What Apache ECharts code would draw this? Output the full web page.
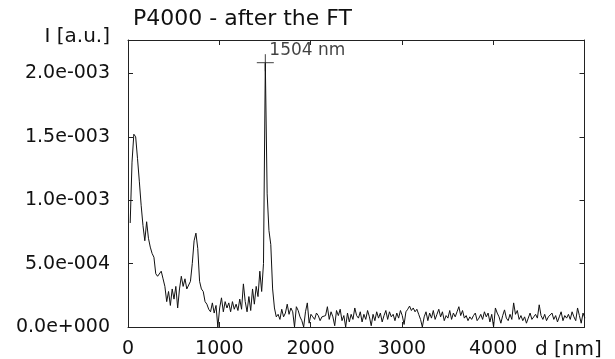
<!DOCTYPE html>
<html>
<head>
<meta charset="utf-8">
<script src="https://cdn.jsdelivr.net/npm/echarts@6/dist/echarts.min.js"></script>
<style>
html,body{margin:0;padding:0;background:#fff;}
#chart{width:615px;height:359px;}
</style>
</head>
<body>
<div id="chart"></div>
<script>
// Sampling grid of the trace (nm): first point and spacing
const dStart = 24;
const dStep = 20;
// Intensity, in units of 1e-4 a.u.
const intensityE4 = [
  // 24 .. 1624
  8.2, 13.0, 15.2, 15.0, 13.3, 11.5, 9.6, 8.0, 6.8, 8.3,
  7.0, 6.3, 5.8, 5.5, 4.2, 4.0, 4.1, 4.4, 3.8, 3.2,
  2.0, 2.8, 1.7, 3.0, 2.2, 3.2, 1.5, 3.0, 4.0, 3.2,
  3.8, 3.0, 2.9, 3.6, 5.0, 6.8, 7.4, 6.2, 3.6, 3.0,
  2.8, 2.0, 1.8, 1.4, 1.2, 1.9, 1.1, 1.7, 0.0, 1.5,
  2.3, 1.2, 2.0, 1.5, 1.9, 1.2, 2.0, 1.4, 1.8, 1.3,
  2.2, 1.4, 3.4, 2.0, 1.2, 2.4, 1.3, 3.0, 1.8, 3.2,
  2.4, 4.4, 2.8, 5.0, 20.8, 10.5, 7.6, 6.5, 3.0, 1.5,
  0.8,
  // 1644 .. 5004
  1.0, 0.6, 1.4, 0.8, 1.1, 1.8, 1.0, 1.5, 1.2, 0.0,
  1.6, 1.3, 0.8, 0.5, 0.0, 1.2, 1.9, 0.3, 1.0, 0.8,
  0.6, 1.1, 0.9, 0.5, 0.8, 0.7, 0.9, 1.6, 0.6, 1.2,
  0.8, 0.1, 1.3, 0.9, 1.4, 0.5, 0.9, 0.0, 1.1, 0.4,
  1.0, 0.6, 1.5, 0.9, 0.7, 1.2, 0.4, 1.0, 0.6, 1.3,
  0.8, 0.1, 1.0, 0.5, 1.2, 0.7, 1.1, 0.4, 0.9, 1.3,
  0.6, 1.2, 0.8, 1.0, 0.5, 1.1, 0.7, 1.3, 0.9, 0.2,
  1.2, 1.4, 1.65, 1.3, 1.5, 1.2, 1.4, 1.0, 0.6, 0.0,
  0.8, 1.2, 0.5, 1.1, 0.7, 1.3, 0.6, 1.0, 1.4, 0.8,
  1.2, 0.5, 0.9, 0.7, 1.3, 0.6, 1.1, 0.8, 1.2, 1.6,
  0.9, 1.3, 0.7, 0.9, 0.5, 0.8, 0.6, 0.9, 1.1, 0.5,
  0.7, 1.0, 0.6, 1.2, 0.8, 1.1, 0.4, 1.0, 0.0, 1.5,
  1.1, 0.8, 0.3, 0.9, 1.35, 0.7, 0.5, 1.0, 0.6, 1.9,
  1.0, 1.3, 0.6, 0.9, 0.5, 0.8, 0.3, 0.7, 1.1, 0.6,
  0.8, 1.0, 0.7, 1.75, 0.9, 0.6, 1.0, 0.5, 0.8, 0.7,
  1.1, 0.6, 0.9, 0.4, 0.8, 1.2, 0.5, 0.9, 0.7, 1.0,
  0.6, 1.2, 0.8, 0.5, 1.5, 0.9, 0.3, 1.1, 0.7
];
// Marked peak
const peakD = [1504];
const peakI = [2.084e-3];
const peakLabel = ['1504 nm'];
// Axis ticks
const xTickStep = 1000;
const yTickStep = 5e-4;

const titleText = 'P4000 - after the FT';
const yName = 'I [a.u.]';
const xName = 'd [nm]';

const traceData = intensityE4.map((v, i) => [dStart + i * dStep, v * 1e-4]);
const peakData = peakD.map((d, i) => [d, peakI[i]]);

function sci(v) {
  const s = Number(v).toExponential(1);
  const parts = s.split('e');
  const ex = parseInt(parts[1], 10);
  return parts[0] + 'e' + (ex < 0 ? '-' : '+') + String(Math.abs(ex)).padStart(3, '0');
}

const FONT = 'DejaVu Sans';
const axisColor = '#222';
const X_MIN = 0, X_MAX = 5000, Y_MIN = 0, Y_MAX = 2.263e-3;

const chart = echarts.init(document.getElementById('chart'), null, {renderer: 'canvas'});
chart.setOption({
  animation: false,
  backgroundColor: '#fff',
  title: {
    text: titleText, left: 128, top: 3,
    textStyle: {fontFamily: FONT, fontSize: 22, fontWeight: 'normal', color: '#111'}
  },
  grid: {left: 128, right: 30.5, top: 40, bottom: 32, containLabel: false, outerBoundsMode: 'none',
    show: false},
  xAxis: [{
    type: 'value', position: 'bottom', min: X_MIN, max: X_MAX, interval: xTickStep,
    name: xName, nameLocation: 'end', nameGap: -49.5,
    nameTextStyle: {fontFamily: FONT, fontSize: 20, color: '#111', align: 'left', verticalAlign: 'top', padding: [13, 0, 0, 0]},
    axisLine: {show: true, onZero: false, lineStyle: {color: axisColor, width: 1}},
    axisTick: {show: true, inside: true, length: 5, lineStyle: {color: axisColor}},
    axisLabel: {fontFamily: FONT, fontSize: 19, color: '#111', margin: 13,
      formatter: v => (v >= X_MAX ? '' : String(v))},
    splitLine: {show: false}
  }, {
    type: 'value', position: 'top', min: X_MIN, max: X_MAX, interval: xTickStep,
    axisLine: {show: true, onZero: false, lineStyle: {color: axisColor, width: 1}},
    axisTick: {show: true, inside: true, length: 5, lineStyle: {color: axisColor}},
    axisLabel: {show: false},
    splitLine: {show: false}
  }],
  yAxis: [{
    type: 'value', position: 'left', min: Y_MIN, max: Y_MAX, interval: yTickStep,
    name: yName, nameLocation: 'end', nameGap: 3,
    nameTextStyle: {fontFamily: FONT, fontSize: 20, color: '#111', align: 'right', verticalAlign: 'middle', padding: [0, 18, 0, 0]},
    axisLine: {show: true, onZero: false, lineStyle: {color: axisColor, width: 1}},
    axisTick: {show: true, inside: true, length: 5, lineStyle: {color: axisColor}},
    axisLabel: {fontFamily: FONT, fontSize: 19, color: '#111', margin: 18, showMaxLabel: false,
      formatter: v => (v > 2.01e-3 ? '' : sci(v))},
    splitLine: {show: false}
  }, {
    type: 'value', position: 'right', min: Y_MIN, max: Y_MAX, interval: yTickStep,
    axisLine: {show: true, onZero: false, lineStyle: {color: axisColor, width: 1}},
    axisTick: {show: true, inside: true, length: 5, lineStyle: {color: axisColor}},
    axisLabel: {show: false},
    splitLine: {show: false}
  }],
  series: [{
    type: 'line', xAxisIndex: 0, yAxisIndex: 0,
    data: traceData, showSymbol: false, symbol: 'none',
    lineStyle: {color: '#111', width: 1}, clip: true, silent: true
  }, {
    type: 'scatter', xAxisIndex: 1, yAxisIndex: 1,
    data: peakData,
    symbol: 'path://M0,10 L20,10 M10,0 L10,20',
    symbolSize: [17, 17],
    itemStyle: {color: 'none', borderColor: '#111', borderWidth: 1},
    label: {
      show: true, formatter: p => peakLabel[p.dataIndex],
      position: [15, -1.5], align: 'left', verticalAlign: 'middle',
      fontFamily: FONT, fontSize: 17, color: '#111'
    },
    silent: true, z: 5
  }]
});
</script>
</body>
</html>
